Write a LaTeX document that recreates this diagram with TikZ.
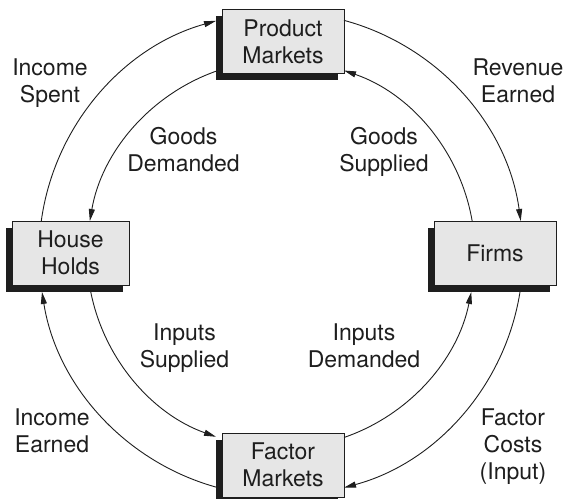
\documentclass[tikz,border=0pt]{standalone}
\usepackage{fontspec}
\setmainfont{TeX Gyre Heros}
\usetikzlibrary{arrows.meta,calc,shadows}
\definecolor{boxfill}{RGB}{230,230,230}
\definecolor{ink}{RGB}{30,30,30}
\begin{document}
\begin{tikzpicture}[x=1pt,y=1pt,
  every node/.style={font=\fontsize{23}{27}\selectfont, text=ink, inner sep=0pt, align=center},
  market/.style={draw=ink, line width=0.8pt, fill=boxfill, minimum height=64pt,
    drop shadow={shadow xshift=-6pt, shadow yshift=-7pt, fill=ink, opacity=1}},
  flowlabel/.style={anchor=base},
  flow/.style={draw=ink, line width=0.9pt, -{Triangle[length=12pt,width=6pt]}}]
\useasboundingbox (0,0) rectangle (567,498);
\clip (0,0) rectangle (567,498);

% the four sectors
\node[market, minimum width=122pt] (pm) at (283,456.5) {Product\\Markets};
\node[market, minimum width=117pt] (hh) at (70.5,245) {House\\Holds};
\node[market, minimum width=122pt] (fi) at (495,245) {Firms};
\node[market, minimum width=122pt] (fm) at (283,33) {Factor\\Markets};

% centre of the two flow rings
\coordinate (c) at (281,244);
\def\Rout{242}
\def\Rin{194}

% end points of the flows on the boxes
\coordinate (spentA) at ($(c)+(172.16:\Rout)$);
\coordinate (demA)   at ($(c)+(109.58:\Rin)$);
\coordinate (revA)   at ($(c)+(74.91:\Rout)$);
\coordinate (supA)   at ($(c)+(9.79:\Rin)$);
\coordinate (indA)   at ($(c)+(-71.05:\Rin)$);
\coordinate (costA)  at ($(c)+(-9.03:\Rout)$);
\coordinate (insA)   at ($(c)+(191.30:\Rin)$);
\coordinate (earnA)  at ($(c)+(254.42:\Rout)$);

% money flows (outer ring)
\draw[flow] (spentA) arc[start angle=172.16, end angle=105.58, radius=\Rout];
\draw[flow] (revA)   arc[start angle=74.91,  end angle=7.84,   radius=\Rout];
\draw[flow] (costA)  arc[start angle=-9.03,  end angle=-74.91, radius=\Rout];
\draw[flow] (earnA)  arc[start angle=254.42, end angle=189.03, radius=\Rout];

% real flows (inner ring)
\draw[flow] (demA) arc[start angle=109.58, end angle=170.21, radius=\Rin];
\draw[flow] (supA) arc[start angle=9.79,   end angle=71.05,  radius=\Rin];
\draw[flow] (indA) arc[start angle=-71.05, end angle=-11.30, radius=\Rin];
\draw[flow] (insA) arc[start angle=191.30, end angle=250.42, radius=\Rin];

% flow labels (positioned at the baseline of their last line)
\node[flowlabel] (lspent) at (50,395)    {Income\\Spent};
\node[flowlabel] (lrev)   at (518,395)   {Revenue\\Earned};
\node[flowlabel] (lgd)    at (183.5,326) {Goods\\Demanded};
\node[flowlabel] (lgs)    at (384,326)   {Goods\\Supplied};
\node[flowlabel] (lis)    at (184.5,131) {Inputs\\Supplied};
\node[flowlabel] (lid)    at (364,131)   {Inputs\\Demanded};
\node[flowlabel] (lie)    at (52,46)     {Income\\Earned};
\node[flowlabel] (lfc)    at (513,19)    {Factor\\Costs\\(Input)};
\end{tikzpicture}
\end{document}
